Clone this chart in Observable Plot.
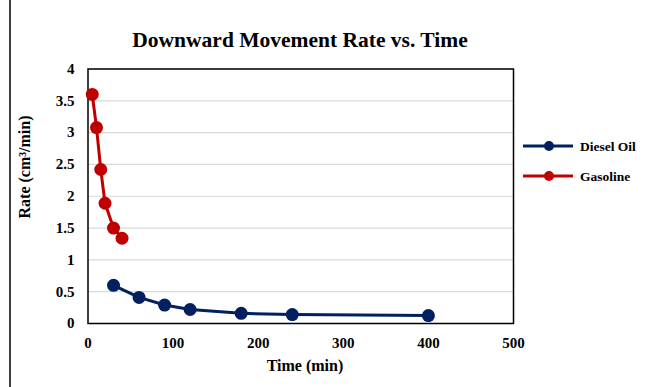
<!DOCTYPE html>
<html><head><meta charset="utf-8">
<script src="https://cdn.jsdelivr.net/npm/d3@7"></script>
<script src="https://cdn.jsdelivr.net/npm/@observablehq/plot@0.6"></script>
<style>body{margin:0;background:#fff;} svg{display:block;}</style>
</head><body><div id="chart"></div>
<script>
const dieselTime = [30, 60, 90, 120, 180, 240, 400];
const dieselRate = [0.6, 0.41, 0.29, 0.22, 0.16, 0.14, 0.125];
const gasTime = [5, 10, 15, 20, 30, 40];
const gasRate = [3.6, 3.08, 2.42, 1.89, 1.5, 1.34];
const xTicks = [0, 100, 200, 300, 400, 500];
const yTicks = [0, 0.5, 1, 1.5, 2, 2.5, 3, 3.5, 4];
const seriesNames = ["Diesel Oil", "Gasoline"];
const seriesColors = ["#002060", "#C00000"];

const diesel = dieselTime.map((t, i) => ({t, r: dieselRate[i]}));
const gas = gasTime.map((t, i) => ({t, r: gasRate[i]}));

const W = 649, H = 387, mL = 87.5, mR = 136, mT = 68.5, mB = 64;
const font = "Liberation Serif";

const chart = Plot.plot({
  width: W, height: H,
  marginLeft: mL, marginRight: mR, marginTop: mT, marginBottom: mB,
  style: {fontFamily: font, fontWeight: "bold", fontSize: "15px", color: "#000", background: "#fff"},
  x: {domain: [0, 500], label: null},
  y: {domain: [0, 4], label: null},
  marks: [
    Plot.gridY(yTicks, {stroke: "#d9d9d9", strokeOpacity: 1, strokeWidth: 1.2}),
    Plot.frame({stroke: "#000", strokeWidth: 1.5}),
    Plot.line(gas, {x: "t", y: "r", stroke: seriesColors[1], strokeWidth: 3}),
    Plot.dot(gas, {x: "t", y: "r", fill: seriesColors[1], r: 6.5}),
    Plot.line(diesel, {x: "t", y: "r", stroke: seriesColors[0], strokeWidth: 3}),
    Plot.dot(diesel, {x: "t", y: "r", fill: seriesColors[0], r: 6.5}),
    Plot.axisX(xTicks, {tickSize: 0, tickPadding: 14, label: null, fontSize: 15}),
    Plot.axisY(yTicks, {tickSize: 0, tickPadding: 13.5, label: null, tickFormat: d => String(d), fontSize: 15})
  ]
});

const svg = d3.select(chart);
// left border line
svg.append("line").attr("x1", 10).attr("x2", 10).attr("y1", 0).attr("y2", H)
  .attr("stroke", "#000").attr("stroke-width", 1.5);
// title
svg.append("text").attr("x", 300).attr("y", 47).attr("text-anchor", "middle")
  .attr("font-weight", "bold").attr("font-size", 21.5)
  .text("Downward Movement Rate vs. Time");
// axis titles
svg.append("text").attr("x", 305).attr("y", 371).attr("text-anchor", "middle")
  .attr("font-weight", "bold").attr("font-size", 16)
  .text("Time (min)");
svg.append("text").attr("transform", "translate(30,167) rotate(-90)").attr("text-anchor", "middle")
  .attr("font-weight", "bold").attr("font-size", 16)
  .text("Rate (cm³/min)");
// legend
seriesNames.forEach((name, i) => {
  const y = 146 + i * 30;
  const g = svg.append("g");
  g.append("line").attr("x1", 523).attr("x2", 573).attr("y1", y).attr("y2", y)
    .attr("stroke", seriesColors[i]).attr("stroke-width", 3);
  g.append("circle").attr("cx", 549).attr("cy", y).attr("r", 5).attr("fill", seriesColors[i]);
  g.append("text").attr("x", 580).attr("y", y).attr("dy", "0.35em").attr("text-anchor", "start")
    .attr("font-weight", "bold").attr("font-size", 13.5)
    .text(name);
});
svg.selectAll("text").attr("font-family", font).style("font-family", font);
document.getElementById("chart").appendChild(chart);
</script>
</body></html>
